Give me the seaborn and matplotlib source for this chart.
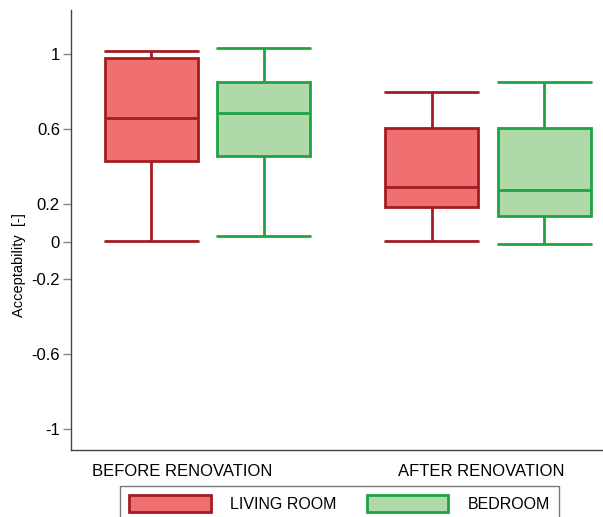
import matplotlib
matplotlib.use("Agg")
import matplotlib.pyplot as plt
import matplotlib.transforms as mtransforms
import seaborn as sns
import numpy as np
import pandas as pd
from matplotlib.patches import Patch

sns.set_style("white")
plt.rcParams['font.family'] = ['Liberation Sans', 'DejaVu Sans']
plt.rcParams['text.color'] = 'black'
plt.rcParams['axes.labelcolor'] = 'black'
plt.rcParams['xtick.color'] = 'black'
plt.rcParams['ytick.color'] = 'black'

periods = ["BEFORE RENOVATION", "AFTER RENOVATION"]
rooms = ["LIVING ROOM", "BEDROOM"]

# five-number summaries [min, Q1, median, Q3, max]
living_before = [0.005, 0.432, 0.661, 0.981, 1.019]
bedroom_before = [0.032, 0.459, 0.688, 0.853, 1.035]
living_after = [0.005, 0.187, 0.293, 0.608, 0.800]
bedroom_after = [-0.011, 0.139, 0.277, 0.608, 0.853]

yticks = [1, 0.6, 0.2, 0, -0.2, -0.6, -1]
ytick_labels = ["1", "0.6", "0.2", "0", "-0.2", "-0.6", "-1"]

fill_colors = {"LIVING ROOM": "#F07070", "BEDROOM": "#B0D9AA"}
edge_colors = {"LIVING ROOM": "#A31D22", "BEDROOM": "#1FA343"}

rows = []
for period, room, vals in [
    (periods[0], rooms[0], living_before),
    (periods[0], rooms[1], bedroom_before),
    (periods[1], rooms[0], living_after),
    (periods[1], rooms[1], bedroom_after),
]:
    for v in vals:
        rows.append({"period": period, "room": room, "value": v})
df = pd.DataFrame(rows)

fig = plt.figure(figsize=(6.03, 5.17), dpi=100)
ax = fig.add_axes([71 / 603, 1 - 450 / 517, (603 - 71) / 603, (450 - 10) / 517])

gap = 0.17
box_w = 0.4 * (1 - gap)
sns.boxplot(
    data=df, x="period", y="value", hue="room",
    order=periods, hue_order=rooms, palette=fill_colors, saturation=1,
    whis=(0, 100), gap=gap, width=0.8, linewidth=2,
    fliersize=0, capwidths=box_w, legend=False, ax=ax,
)

# edge colours per hue: living boxes sit left of the category centre
for p in ax.patches:
    verts = p.get_path().vertices
    xm = np.mean(p.get_transform().transform(verts)[:, 0])
    xd = ax.transData.inverted().transform((xm, 0))[0]
    room = rooms[0] if xd - round(xd) < 0 else rooms[1]
    p.set_edgecolor(edge_colors[room])
    p.set_linewidth(2)
for ln in ax.lines:
    xd = np.mean(ln.get_xdata())
    if np.isnan(xd):
        continue
    room = rooms[0] if xd - round(xd) < 0 else rooms[1]
    ln.set_color(edge_colors[room])
    ln.set_linewidth(2)

ax.set_xlim(-0.487, 1.41)
ax.set_ylim(-1.11, 1.237)
ax.set_yticks(yticks)
ax.set_yticklabels(ytick_labels, fontsize=12)
ax.set_xticks([0, 1])
ax.set_xticklabels(periods, fontsize=12)
ax.tick_params(axis="x", length=0, pad=10)
ax.tick_params(axis="y", length=6, width=1, color="#888888", direction="out", left=True, pad=2)
ax.set_xlabel("")
ax.set_ylabel("Acceptability  [-]", fontsize=10.5)
ax.yaxis.set_label_coords(-0.085, 0.42)

# small horizontal nudges of the category labels, as in the reference
for lbl, dx in zip(ax.get_xticklabels(), [-25, -7]):
    lbl.set_transform(lbl.get_transform() + mtransforms.ScaledTranslation(dx / 100, 0, fig.dpi_scale_trans))

for s in ["top", "right"]:
    ax.spines[s].set_visible(False)
for s in ["left", "bottom"]:
    ax.spines[s].set_color("#444444")
    ax.spines[s].set_linewidth(1)

handles = [Patch(facecolor=fill_colors[r], edgecolor=edge_colors[r], linewidth=2, label=r) for r in rooms]
leg = fig.legend(handles=handles, loc="upper center", bbox_to_anchor=(0.563, 0.0755),
                 ncol=2, frameon=True, fancybox=False, fontsize=11.5,
                 handlelength=5.1, handleheight=1.3, columnspacing=1.9,
                 handletextpad=1.2, borderpad=0.55)
leg.get_frame().set_edgecolor("#555555")
leg.get_frame().set_linewidth(1)

fig.savefig("out.png", dpi=100)
